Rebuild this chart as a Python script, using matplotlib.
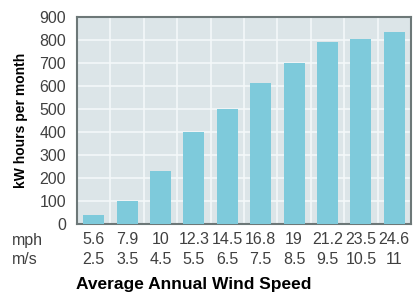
import numpy as np
import matplotlib.pyplot as plt

# Data
mph = ['5.6', '7.9', '10', '12.3', '14.5', '16.8', '19', '21.2', '23.5', '24.6']
ms = ['2.5', '3.5', '4.5', '5.5', '6.5', '7.5', '8.5', '9.5', '10.5', '11']
kwh = [40, 100, 230, 400, 500, 613, 700, 790, 805, 835]

plt.rcParams['font.family'] = ['Liberation Sans', 'DejaVu Sans']

fig = plt.figure(figsize=(4.13, 2.92), dpi=100)
ax = fig.add_axes([77/413, 68/292, 334/413, 207/292])

x = np.arange(len(kwh))
ax.bar(x, kwh, width=0.63, color='#7ecadb', zorder=3)

ax.set_facecolor('#dce5e8')
ax.set_xlim(-0.5, len(kwh) - 0.5)
ax.set_ylim(0, 900)
ax.set_yticks(np.arange(0, 901, 100))
ax.set_xticks(x)
ax.set_xticklabels([f'{a}\n{b}' for a, b in zip(mph, ms)], linespacing=1.4)

# white grid: horizontal at every 100, vertical between bars
ax.set_xticks(x[:-1] + 0.5, minor=True)
ax.grid(axis='y', which='major', color='#f4f8f9', lw=1.2, zorder=1)
ax.grid(axis='x', which='minor', color='#f4f8f9', lw=1.2, zorder=1)
ax.grid(axis='x', which='major', visible=False)

ax.tick_params(axis='both', which='both', length=0, labelsize=11.5, labelcolor='#404040')
ax.tick_params(axis='y', pad=8)
ax.tick_params(axis='x', pad=6)

for s in ax.spines.values():
    s.set_color('#6d7878')
    s.set_linewidth(1.5)

ax.set_ylabel('kW hours per month', fontsize=10, fontweight='bold', labelpad=8)

fig.text(12/413, 1 - 240/292, 'mph', fontsize=11.5, color='#404040', va='center')
fig.text(12/413, 1 - 259/292, 'm/s', fontsize=11.5, color='#404040', va='center')
fig.text(194/413, 1 - 284/292, 'Average Annual Wind Speed', fontsize=12.5,
         fontweight='bold', ha='center', va='center')

plt.savefig('out.png', dpi=100)
